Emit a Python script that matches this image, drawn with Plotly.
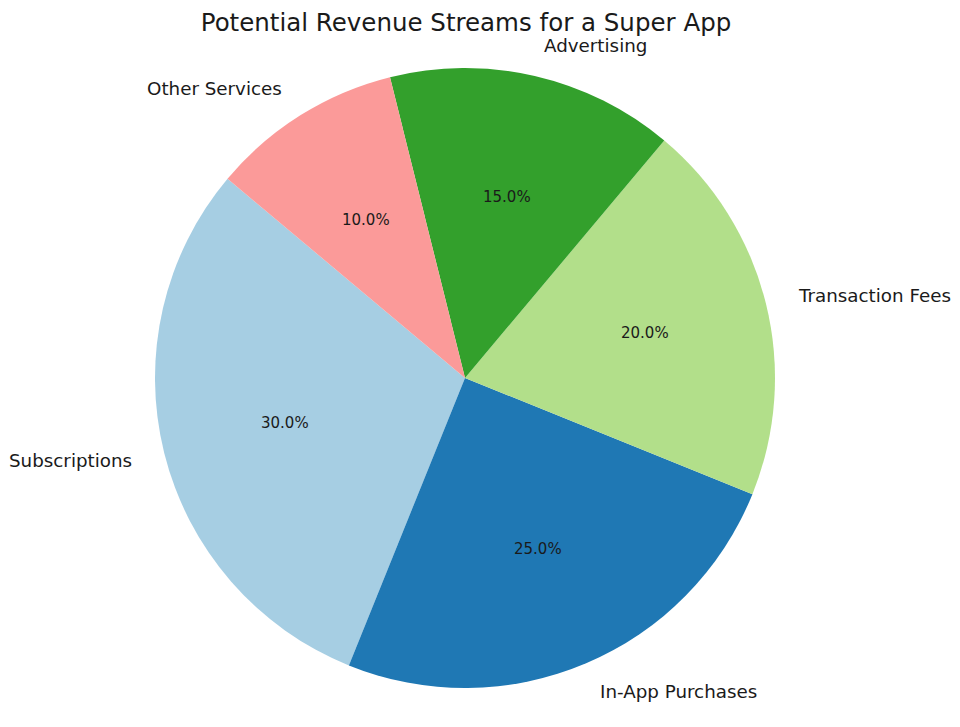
import math
import plotly.graph_objects as go

labels = ["Subscriptions", "In-App Purchases", "Transaction Fees", "Advertising", "Other Services"]
values = [30, 25, 20, 15, 10]
colors = ["#a6cee3", "#1f78b4", "#b2df8a", "#33a02c", "#fb9a99"]
title = "Potential Revenue Streams for a Super App"
start_angle = 140  # degrees, counterclockwise from 3 o'clock

W, H = 960, 727
cx, cy, R = 465.0, 378.0, 310.0

total = sum(values)
# plotly's counterclockwise pie: the first slice ends at the rotation angle
first_span = 360.0 * values[0] / total
rotation = -(start_angle + first_span - 90)

fig = go.Figure()
fig.add_trace(go.Pie(
    labels=labels, values=values, sort=False, direction="counterclockwise",
    rotation=rotation, marker=dict(colors=colors, line=dict(width=0)),
    textinfo="none", hoverinfo="label+percent", showlegend=False,
    domain=dict(x=[(cx - R) / W, (cx + R) / W], y=[(H - cy - R) / H, (H - cy + R) / H]),
))

ann = []
acc = start_angle
font = "DejaVu Sans, sans-serif"
for lab, v in zip(labels, values):
    span = 360.0 * v / total
    mid = math.radians(acc + span / 2)
    acc += span
    c, s = math.cos(mid), math.sin(mid)
    lx = cx + 1.1 * R * c
    ly = cy - 1.1 * R * s
    ann.append(dict(x=lx / W, y=1 - ly / H, xref="paper", yref="paper", text=lab,
                    showarrow=False, xanchor="left" if c >= 0 else "right", yanchor="middle",
                    font=dict(family=font, size=18.3, color="#1a1a1a")))
    px = cx + 0.6 * R * c
    py = cy - 0.6 * R * s
    ann.append(dict(x=px / W, y=1 - py / H, xref="paper", yref="paper",
                    text=f"{100.0 * v / total:.1f}%", showarrow=False,
                    xanchor="center", yanchor="middle",
                    font=dict(family=font, size=15, color="#1a1a1a")))

fig.update_layout(
    width=W, height=H, margin=dict(l=0, r=0, t=0, b=0),
    paper_bgcolor="white", plot_bgcolor="white",
    title=dict(text=title, x=466 / W, xanchor="center", y=1 - 22 / H, yanchor="middle",
               yref="container", font=dict(family=font, size=24.5, color="#1a1a1a")),
    annotations=ann,
)
fig.write_html("out.html")
